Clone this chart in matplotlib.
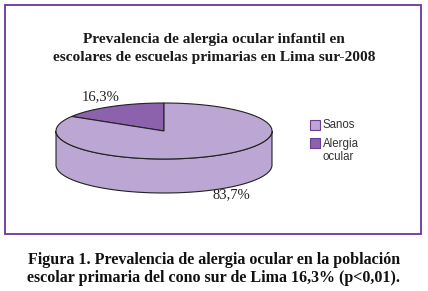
import numpy as np
import matplotlib
matplotlib.use('Agg')
import matplotlib.pyplot as plt
from matplotlib.patches import Polygon, Rectangle

# data
categorias = ['Sanos', 'Alergia\nocular']
valores = [83.7, 16.3]
etiquetas = ['83,7%', '16,3%']
colores = ['#bba6d4', '#8c62ac']

titulo = 'Prevalencia de alergia ocular infantil en\nescolares de escuelas primarias en Lima sur-2008'
pie_fig = ('Figura 1. Prevalencia de alergia ocular en la población\n'
           'escolar primaria del cono sur de Lima 16,3% (p<0,01).')

fig = plt.figure(figsize=(4.28, 2.91), dpi=100)
ax = fig.add_axes([0, 0, 1, 1])
ax.set_xlim(0, 428)
ax.set_ylim(291, 0)
ax.axis('off')

# marco morado
ax.add_patch(Rectangle((5, 5), 416.5, 229, fill=False, edgecolor='#7030a0', lw=1.3))

serif = ['Liberation Serif', 'DejaVu Serif']
ax.text(214, 48, titulo, ha='center', va='center', fontsize=11.1, fontweight='bold',
        family=serif, color='#1a1a1a', linespacing=1.5)

# pastel 3D hecho a mano
cx, cy, rx, ry, depth = 164, 131, 108, 28, 34

def pt(theta):
    return cx + rx * np.cos(theta), cy - ry * np.sin(theta)

# angulos: empieza arriba, antihorario; Alergia primero
orden = [1, 0]
start = np.pi / 2
rangos = {}
for i in orden:
    ext = valores[i] / sum(valores) * 2 * np.pi
    rangos[i] = (start, start + ext)
    start += ext

# paredes laterales (parte frontal, de pi a 2pi)
for i in orden:
    a0, a1 = rangos[i]
    lo, hi = max(a0, np.pi), min(a1, 2 * np.pi)
    if hi > lo:
        t = np.linspace(lo, hi, 120)
        x, y = pt(t)
        xs = np.concatenate([x, x[::-1]])
        ys = np.concatenate([y, (y + depth)[::-1]])
        ax.add_patch(Polygon(np.column_stack([xs, ys]), closed=True, facecolor=colores[i],
                             edgecolor='#222222', lw=0.8))

# caras superiores
for i in orden:
    a0, a1 = rangos[i]
    t = np.linspace(a0, a1, 200)
    x, y = pt(t)
    xs = np.concatenate([[cx], x])
    ys = np.concatenate([[cy], y])
    ax.add_patch(Polygon(np.column_stack([xs, ys]), closed=True, facecolor=colores[i],
                         edgecolor='#222222', lw=0.8))

ax.text(101, 97, etiquetas[1], ha='center', va='center', fontsize=10.5, family=serif, color='#222222')
ax.text(231, 195, etiquetas[0], ha='center', va='center', fontsize=10.5, family=serif, color='#222222')

# leyenda (cuadro alineado con la primera linea del texto)
ley_y = [120, 138]
for k in range(2):
    ax.add_patch(Rectangle((310, ley_y[k]), 10, 10, facecolor=colores[k],
                           edgecolor='#6a3d96', lw=0.8))
    ax.text(322.5, ley_y[k] - 0.5, categorias[k], ha='left', va='top', fontsize=8.3,
            family=['Liberation Sans', 'DejaVu Sans'], color='#333333', linespacing=1.12)

ax.text(214, 269, pie_fig, ha='center', va='center', fontsize=11.5, fontweight='bold',
        family=serif, color='#111111', linespacing=1.12)

fig.savefig('out.png', dpi=100)
